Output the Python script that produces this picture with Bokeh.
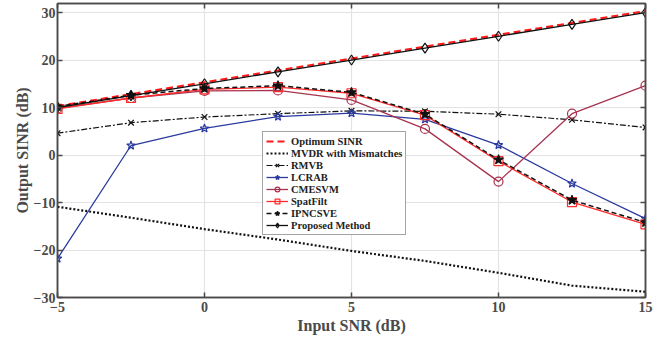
from bokeh.plotting import figure
from bokeh.models import Range1d, Legend, LegendItem, FixedTicker, LinearAxis
from bokeh.embed import file_html
from bokeh.resources import INLINE

snr = [-5, -2.5, 0, 2.5, 5, 7.5, 10, 12.5, 15]
optimum = [10.3, 12.8, 15.3, 17.8, 20.3, 22.8, 25.3, 27.8, 30.3]
mvdr = [-10.9, -13.2, -15.6, -17.8, -20.2, -22.3, -24.8, -27.5, -28.8]
rmvb = [4.6, 6.8, 8.0, 8.7, 9.3, 9.2, 8.6, 7.4, 5.8]
lcrab = [-21.8, 2.0, 5.6, 8.1, 8.8, 7.5, 2.1, -6.0, -13.4]
cmesvm = [9.8, 12.0, 13.5, 13.6, 11.6, 5.5, -5.6, 8.7, 14.6]
spatfilt = [9.7, 12.0, 13.8, 14.3, 13.0, 8.4, -1.3, -9.9, -14.6]
ipncsve = [10.2, 12.6, 14.0, 14.6, 13.2, 8.6, -1.0, -9.5, -14.2]
proposed = [10.0, 12.5, 15.0, 17.5, 20.0, 22.5, 25.0, 27.5, 30.0]

x_ticks = [-5, 0, 5, 10, 15]
y_ticks = [-30, -20, -10, 0, 10, 20, 30]

FONT = "Liberation Serif"
AX = "#4a4a4a"

p = figure(width=660, height=341, output_backend="svg", toolbar_location=None,
           x_range=Range1d(-5, 15), y_range=Range1d(-30, 31.9),
           min_border_left=57, min_border_right=15, min_border_top=3, min_border_bottom=44)
p.background_fill_color = "white"
p.outline_line_color = AX
p.outline_line_width = 1.5

for ax in (p.xaxis[0], p.yaxis[0]):
    ax.axis_line_color = AX
    ax.axis_line_width = 1.5
    ax.major_tick_in = 5
    ax.major_tick_out = 0
    ax.minor_tick_in = 0
    ax.minor_tick_out = 0
    ax.major_tick_line_color = AX
    ax.major_tick_line_width = 1.5
    ax.major_label_text_font = FONT
    ax.major_label_text_font_style = "bold"
    ax.major_label_text_font_size = "14px"
    ax.major_label_text_color = AX
    ax.axis_label_text_font = FONT
    ax.axis_label_text_font_style = "bold"
    ax.axis_label_text_font_size = "16px"
    ax.axis_label_text_color = AX
p.xaxis[0].ticker = FixedTicker(ticks=x_ticks)
p.yaxis[0].ticker = FixedTicker(ticks=y_ticks)
p.xaxis[0].axis_label = "Input SNR (dB)"
p.yaxis[0].axis_label = "Output SINR (dB)"
p.xaxis[0].major_label_standoff = 4
p.xaxis[0].axis_label_standoff = 2
p.yaxis[0].major_label_standoff = 2
p.yaxis[0].axis_label_standoff = 0

for side, tk in (("right", y_ticks), ("above", x_ticks)):
    a = LinearAxis(ticker=FixedTicker(ticks=tk), major_label_text_font_size="1px",
                   major_label_text_color=None, major_label_standoff=0,
                   major_tick_in=5, major_tick_out=0, minor_tick_in=0, minor_tick_out=0,
                   axis_line_color=AX, axis_line_width=1.5, major_tick_line_color=AX,
                   major_tick_line_width=1.5)
    p.add_layout(a, side)

p.xgrid.ticker = FixedTicker(ticks=x_ticks)
p.ygrid.ticker = FixedTicker(ticks=y_ticks)
p.grid.grid_line_color = "#e3e3e3"
p.grid.grid_line_width = 1.2

items = []

def add(label, ys, color, dash="solid", width=1.3, marker=None, msize=8, fill=None):
    rs = [p.line(snr, ys, line_color=color, line_dash=dash, line_width=width)]
    if marker:
        rs.append(p.scatter(snr, ys, marker=marker, size=msize, line_color=color,
                            line_width=1.2, fill_color=fill if fill else None))
    items.append(LegendItem(label=label, renderers=rs))

add("Optimum SINR", optimum, "#ff1a1a", dash="7 4", width=2.2)
add("MVDR with Mismatches", mvdr, "#111111", dash="2 2", width=2.2)
add("RMVB", rmvb, "#111111", dash="6 2 2 2", width=1.2, marker="x", msize=8)
add("LCRAB", lcrab, "#2b3a9e", marker="star", msize=9)
add("CMESVM", cmesvm, "#a8334f", marker="circle", msize=9)
add("SpatFilt", spatfilt, "#ff2a2a", marker="square", msize=9)
add("IPNCSVE", ipncsve, "#111111", dash="5 3", width=1.5, marker="star", msize=10, fill="#111111")
add("Proposed Method", proposed, "#111111", width=1.3, marker="diamond", msize=10)

legend = Legend(items=items, location=(205, 62), orientation="vertical")
legend.label_text_font = FONT
legend.label_text_font_style = "bold"
legend.label_text_font_size = "10.5px"
legend.label_text_color = "#222222"
legend.glyph_width = 22
legend.glyph_height = 12
legend.label_height = 12
legend.spacing = 0
legend.padding = 3
legend.margin = 0
legend.label_standoff = 3
legend.border_line_color = AX
legend.border_line_width = 1.5
legend.background_fill_color = "white"
legend.background_fill_alpha = 1
p.add_layout(legend, "center")

open("out.html", "w").write(file_html(p, INLINE))
